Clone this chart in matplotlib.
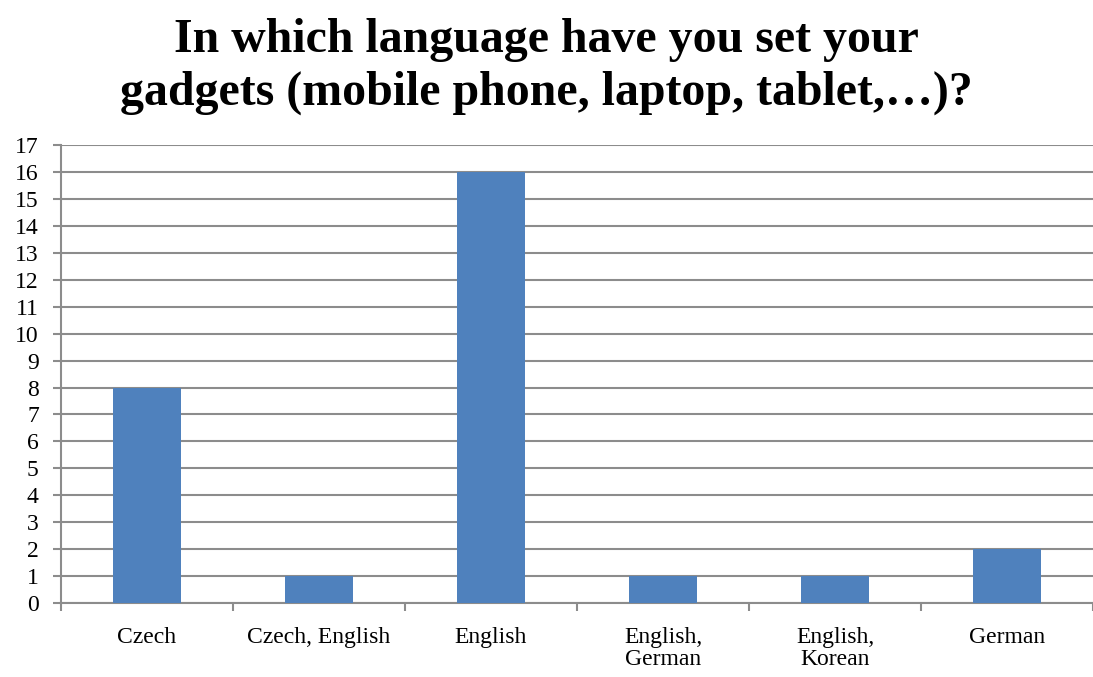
import matplotlib.pyplot as plt
import numpy as np

categories = ["Czech", "Czech, English", "English", "English,\nGerman", "English,\nKorean", "German"]
counts = [8, 1, 16, 1, 1, 2]

plt.rcParams['font.family'] = ['Liberation Serif', 'DejaVu Serif']

fig = plt.figure(figsize=(10.93, 6.77), dpi=100)
ax = fig.add_axes([0.0558, 0.109, 0.9442, 0.677])

x = np.arange(len(categories))
ax.bar(x, counts, width=0.4, color='#4F81BD', zorder=3)

ax.set_xlim(-0.5, len(categories) - 0.5)
ax.set_ylim(0, 17)
ax.set_yticks(range(0, 18))
ax.yaxis.grid(True, color='#8c8c8c', linewidth=1.5, zorder=0)

ax.set_xticks(x)
ax.set_xticklabels(categories, fontsize=17, linespacing=1.1)
ax.set_xticks(np.arange(-0.5, len(categories)), minor=True)
ax.tick_params(axis='x', which='major', length=0, pad=17)
ax.tick_params(axis='x', which='minor', length=6, width=1.5, color='#8c8c8c')
ax.tick_params(axis='y', length=6, width=1.5, color='#8c8c8c', labelsize=17, pad=10)

for side in ['top', 'right']:
    ax.spines[side].set_visible(False)
for side in ['left', 'bottom']:
    ax.spines[side].set_color('#8c8c8c')
    ax.spines[side].set_linewidth(1.5)

fig.suptitle("In which language have you set your\ngadgets (mobile phone, laptop, tablet,\u2026)?",
             fontsize=34.5, fontweight='bold', y=0.973, linespacing=1.25)

fig.savefig("out.png", dpi=100)
